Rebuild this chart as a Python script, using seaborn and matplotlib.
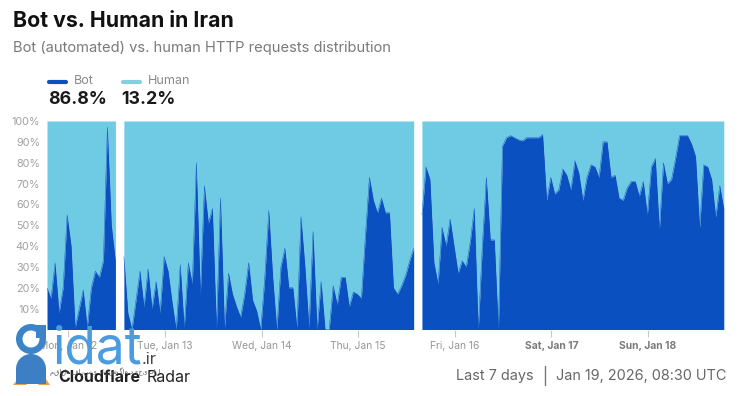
import numpy as np
import pandas as pd
import matplotlib
matplotlib.use("Agg")
import matplotlib.pyplot as plt
from matplotlib.patches import Circle, Wedge, Polygon
import seaborn as sns

bot_seg1 = [20,15,32,8,20,55,40,1,10,19,1,20,28,25,33,97,50,33]
bot_seg2 = [35,8,0,14,28,11,29,10,23,8,35,28,13,0,31,1,32,22,80,17,69,51,58,1,63,1,27,17,11,6,17,32,14,9,0,
            25,57,25,0,30,39,20,20,1,54,30,1,47,0,23,0,0,21,12,25,25,11,18,17,15,45,73,62,56,63,56,56,20,17,21,26,33,39]
bot_seg3 = [55,78,72,32,22,49,40,53,40,27,33,30,42,58,0,40,73,43,43,0,88,92,93,92,91,90.5,92,92,92,92,93.5,62,73,65,67,77,74,67,81,75,62,
            73,79,78,73,90,90,73,74,63,62,68,71,71,64,71,55,78,82,48,80,70,72,82,93,93,93,89,83,49,79,78,72,54,69,58]
seg_starts = [-29.3, -10.2, 63.85]
day_ticks = [-24, 0, 24, 48, 72, 96, 120]
day_labels = ["Mon, Jan 12", "Tue, Jan 13", "Wed, Jan 14", "Thu, Jan 15", "Fri, Jan 16", "Sat, Jan 17", "Sun, Jan 18"]
y_ticks = [10, 20, 30, 40, 50, 60, 70, 80, 90, 100]
y_labels = [f"{v}%" for v in y_ticks]

BOT = "#0a50c0"
HUMAN = "#6fcbe4"

sns.set_theme(style="white")
plt.rcParams["font.family"] = ["Inter", "Noto Sans", "DejaVu Sans"]

rows = []
for seg, (start, vals) in enumerate(zip(seg_starts, [bot_seg1, bot_seg2, bot_seg3])):
    for i, v in enumerate(vals):
        rows.append({"hour": start + i, "bot": v, "seg": seg})
df = pd.DataFrame(rows)

W, H = 740, 396
fig = plt.figure(figsize=(W / 100, H / 100), dpi=100, facecolor="white")
ax = fig.add_axes([47 / W, 1 - 329.5 / H, (724 - 47) / W, (329.5 - 121) / H])
ax.set_xlim(-29.3, 138.9)
ax.set_ylim(0, 100)

for seg, g in df.groupby("seg"):
    ax.fill_between(g["hour"], g["bot"], 100, color=HUMAN, lw=0, zorder=2)
    ax.fill_between(g["hour"], 0, g["bot"], color=BOT, lw=0, zorder=3)
    sns.lineplot(data=g, x="hour", y="bot", ax=ax, color=BOT, lw=0.3, zorder=4, legend=False)

ax.set_xlabel("")
ax.set_ylabel("")
ax.set_xticks(day_ticks)
ax.set_xticklabels(day_labels, fontsize=7.4, color="#969696")
for lab in ax.get_xticklabels()[-2:]:
    lab.set_fontweight("bold")
    lab.set_color("#7a7a7a")
ax.set_yticks(y_ticks)
ax.set_yticklabels(y_labels, fontsize=7.8, color="#a0a0a0")
ax.tick_params(axis="x", length=5, width=0.8, color="#c8c8c8", pad=3, bottom=True)
ax.tick_params(axis="y", length=0, pad=5)
ax.grid(False)
for s in ax.spines.values():
    s.set_visible(False)

def T(x, y, s, **kw):
    kw.setdefault("va", "center")
    return fig.text(x / W, 1 - y / H, s, **kw)

T(13, 21, "Bot vs. Human in Iran", fontsize=15.3, fontweight="bold", color="#111111")
T(13, 48, "Bot (automated) vs. human HTTP requests distribution", fontsize=10.6, color="#7a7a7a")
T(74, 81, "Bot", fontsize=9, color="#8a8a8a")
T(148, 81, "Human", fontsize=9, color="#8a8a8a")
T(48, 100, "86.8%", fontsize=12.8, fontweight="bold", color="#1a1a1a")
T(121, 100, "13.2%", fontsize=12.8, fontweight="bold", color="#1a1a1a")
fig.add_artist(plt.Line2D([49 / W, 66 / W], [1 - 81.5 / H] * 2, color=BOT, lw=3, solid_capstyle="round"))
fig.add_artist(plt.Line2D([123 / W, 140 / W], [1 - 81.5 / H] * 2, color="#86cde0", lw=3, solid_capstyle="round"))

T(456, 376, "Last 7 days", fontsize=10.4, color="#666666")
fig.add_artist(plt.Line2D([545 / W, 545 / W], [1 - 366 / H, 1 - 385 / H], color="#777777", lw=1))
T(556, 376, "Jan 19, 2026, 08:30 UTC", fontsize=10.4, color="#666666")
T(58, 378, "Cloudflare", fontsize=11.5, fontweight="bold", color="#222222")
T(147, 378, "Radar", fontsize=11.5, color="#222222")

# watermark
ov = fig.add_axes([0, 0, 1, 1], facecolor="none", zorder=10)
ov.set_xlim(0, W)
ov.set_ylim(H, 0)
ov.axis("off")
blue = "#3b84c8"
ov.add_patch(Polygon([(13, 385), (20, 376), (27, 385)], color="#e9a040", lw=0))
ov.add_patch(Polygon([(38, 385), (44, 376), (50, 385)], color="#e9a040", lw=0))
ov.add_patch(Wedge((31, 339), 15, 0, 360, width=6.5, color=blue, lw=0))
ov.add_patch(Polygon([(36, 325), (46, 325), (46, 338), (36, 338)], color=blue, lw=0))
ov.add_patch(Circle((31, 369), 15, color="#3c7fc4", lw=0))
ov.add_patch(Polygon([(16, 369), (46, 369), (46, 384), (16, 384)], color="#3c7fc4", lw=0))
T(53, 364, "idat", fontsize=37, color="#4a9be0", va="baseline", zorder=12)
T(142, 364, ".ir", fontsize=12, color="#444444", va="baseline", zorder=12)
T(50, 372, "مقاله فارسی دانشگاه دیجیتال", fontsize=4.8, color="#555555", zorder=12, family=["DejaVu Sans"])

fig.savefig("out.png", dpi=100, facecolor="white")
